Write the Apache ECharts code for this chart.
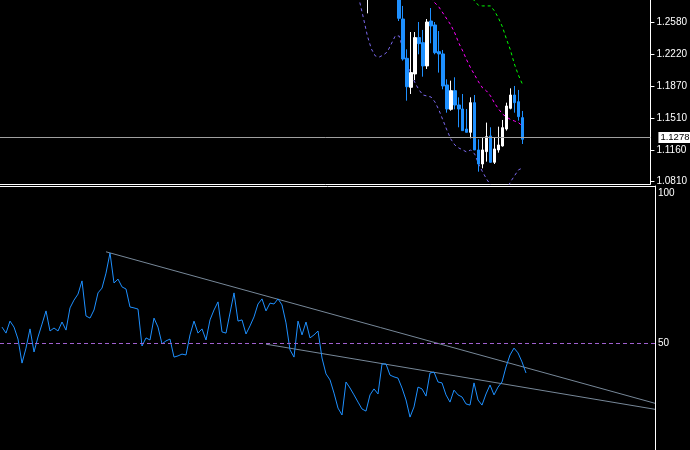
<!DOCTYPE html>
<html><head><meta charset="utf-8">
<script src="https://cdn.jsdelivr.net/npm/echarts@6/dist/echarts.min.js"></script>
<style>html,body{margin:0;padding:0;background:#000;}#c{width:690px;height:450px;}</style>
</head><body><div id="c"></div>
<script>
// ---- price pane data (bar index: 0 = leftmost bar) ----
const candleBars  = [92,100,101,102,103,104,105,106,107,108,109,110,111,112,113,114,115,116,117,118,119,120,121,122,123,124,125,126,127,128,129,130,131];
const candleOpen  = [1.2860,1.2880,1.2613,1.2177,1.1856,1.2004,1.2407,1.2351,1.2093,1.2591,1.2547,1.2251,1.2226,1.1882,1.1612,1.1819,1.1660,1.1616,1.1394,1.1357,1.1686,1.1162,1.1006,1.1143,1.1317,1.1025,1.1162,1.1206,1.1394,1.1623,1.1771,1.1697,1.1520];
const candleClose = [1.2950,1.2621,1.2170,1.1863,1.2019,1.2407,1.2340,1.2093,1.2580,1.2536,1.2240,1.2226,1.1871,1.1616,1.1819,1.1660,1.1616,1.1376,1.1357,1.1686,1.1162,1.1006,1.1162,1.1309,1.1025,1.1173,1.1217,1.1409,1.1649,1.1771,1.1686,1.1531,1.1280];
const candleLow   = [1.2676,1.2591,1.2152,1.1708,1.1782,1.1937,1.2222,1.1974,1.2059,1.2344,1.2222,1.2019,1.1834,1.1575,1.1597,1.1612,1.1413,1.1376,1.1357,1.1291,1.1162,1.0921,1.0958,1.1032,1.1021,1.1006,1.1132,1.1199,1.1376,1.1612,1.1575,1.1487,1.1228];
const candleHigh  = [1.2990,1.2920,1.2758,1.2277,1.2469,1.2469,1.2580,1.2492,1.2613,1.2735,1.2580,1.2480,1.2270,1.1945,1.1930,1.1967,1.1745,1.1782,1.1616,1.1745,1.1771,1.1280,1.1302,1.1465,1.1413,1.1302,1.1420,1.1494,1.1686,1.1845,1.1871,1.1827,1.1594];

const lowerBandStart = 89;
const lowerBand = [1.2990,1.2813,1.2624,1.2425,1.2281,1.2203,1.2192,1.2214,1.2248,1.2336,1.2425,1.2425,1.2270,1.2115,1.2004,1.1904,1.1827,1.1771,1.1760,1.1749,1.1694,1.1605,1.1494,1.1383,1.1283,1.1217,1.1184,1.1162,1.1139,1.1162,1.1117,1.1006,1.0918,1.0840,1.0774,1.0663,1.0608,1.0630,1.0718,1.0807,1.0873,1.0940,1.0962];
const midBandStart = 107;
const midBand = [1.2900,1.2846,1.2791,1.2746,1.2680,1.2613,1.2547,1.2458,1.2347,1.2259,1.2159,1.2070,1.1993,1.1915,1.1849,1.1815,1.1760,1.1682,1.1616,1.1561,1.1527,1.1500,1.1483,1.1466,1.1428];
const upperBandStart = 117;
const upperBand = [1.2950,1.2857,1.2813,1.2763,1.2758,1.2758,1.2758,1.2702,1.2624,1.2525,1.2392,1.2270,1.2115,1.1993,1.1893];

const currentPrice = 1.1278;
const priceTicks = [1.2580,1.2220,1.1870,1.1510,1.1160,1.0810];

// ---- oscillator pane ----
const rsi = [55.3,53.3,57.3,55.3,51.3,43.3,48.3,54.7,47.0,52.0,
             56.3,60.7,54.0,55.0,54.0,57.0,54.3,61.7,64.3,66.3,
             70.7,59.0,58.3,61.0,66.7,68.3,73.3,80.0,70.0,71.3,
             68.7,68.0,62.0,61.7,61.3,49.0,51.7,51.0,58.3,55.3,
             49.7,50.7,51.3,45.3,45.7,46.3,46.0,52.7,57.3,53.3,
             54.7,51.0,57.7,61.0,63.7,53.7,53.3,60.0,66.7,57.3,
             57.7,53.0,55.7,58.7,63.0,64.7,60.7,63.3,63.0,64.7,
             62.7,56.7,47.7,45.3,57.3,52.7,57.0,51.7,52.7,54.0,
             45.0,39.7,37.7,33.3,28.3,26.0,37.0,35.0,32.7,30.3,
             28.0,27.3,32.7,34.7,33.0,43.0,43.0,39.3,38.7,38.3,
             35.0,31.0,25.3,28.7,35.3,34.7,32.3,40.0,40.3,37.0,
             36.7,32.7,30.3,34.3,32.7,32.0,29.7,29.3,36.7,31.0,
             29.3,33.0,36.0,32.7,35.3,37.0,42.0,46.0,48.3,46.7,
             43.7,40.0];
const rsiTicks = [100, 50];
const rsiLevel = 50;
const trendUpper = [[26, 80.4], [163.25, 29.9]];
const trendLower = [[66, 49.6], [163.25, 27.9]];

// ---- build ----
const X_MIN = -0.5, X_MAX = 163.25;
const candleData = candleBars.map((b, k) => [b, candleOpen[k], candleClose[k], candleLow[k], candleHigh[k]]);
const band = (start, arr) => arr.map((v, k) => [start + k, v]);
const rsiData = rsi.map((v, i) => [i, v]);
const FONT = 'Liberation Sans';

const chart = echarts.init(document.getElementById('c'), null, {renderer: 'canvas'});
chart.setOption({
  animation: false,
  backgroundColor: '#000000',
  grid: [
    {left: 0, top: 0, width: 655, height: 184},
    {left: 0, top: 186, width: 655, height: 264}
  ],
  xAxis: [
    {type: 'value', gridIndex: 0, min: X_MIN, max: X_MAX, position: 'bottom',
     axisLine: {show: true, onZero: false, lineStyle: {color: '#ffffff', width: 1}},
     axisTick: {show: false}, axisLabel: {show: false}, splitLine: {show: false}},
    {type: 'value', gridIndex: 1, min: X_MIN, max: X_MAX, position: 'top',
     axisLine: {show: true, onZero: false, lineStyle: {color: '#ffffff', width: 1}},
     axisTick: {show: false}, axisLabel: {show: false}, splitLine: {show: false}}
  ],
  yAxis: [
    {type: 'value', gridIndex: 0, position: 'right', min: 1.07845, max: 1.28238,
     axisLine: {show: true, onZero: false, lineStyle: {color: '#ffffff', width: 1}},
     axisTick: {show: true, inside: false, length: 4, customValues: priceTicks, lineStyle: {color: '#ffffff'}},
     axisLabel: {show: true, customValues: priceTicks, margin: 6, color: '#ffffff', fontSize: 10, fontFamily: FONT,
                 formatter: v => Number(v).toFixed(4), showMinLabel: true, showMaxLabel: true, hideOverlap: false},
     splitLine: {show: false}},
    {type: 'value', gridIndex: 1, position: 'right', min: 14.3333, max: 102.3333,
     axisLine: {show: true, onZero: false, lineStyle: {color: '#ffffff', width: 1}},
     axisTick: {show: false},
     axisLabel: {show: true, customValues: rsiTicks, margin: 3, color: '#ffffff', fontSize: 10, fontFamily: FONT,
                 formatter: v => String(Math.round(v)), hideOverlap: false},
     splitLine: {show: false}}
  ],
  series: [
    {type: 'line', xAxisIndex: 0, yAxisIndex: 0, data: band(lowerBandStart, lowerBand), symbol: 'none', clip: true,
     lineStyle: {color: '#7b68ee', width: 1, type: [3, 3]}, z: 2},
    {type: 'line', xAxisIndex: 0, yAxisIndex: 0, data: band(midBandStart, midBand), symbol: 'none', clip: true,
     lineStyle: {color: '#ff00ff', width: 1, type: [3, 3]}, z: 2},
    {type: 'line', xAxisIndex: 0, yAxisIndex: 0, data: band(upperBandStart, upperBand), symbol: 'none', clip: true,
     lineStyle: {color: '#00ff00', width: 1, type: [3, 3]}, z: 2},
    {type: 'candlestick', xAxisIndex: 0, yAxisIndex: 0, data: candleData, clip: true,
     encode: {x: 0, y: [1, 2, 3, 4]}, barWidth: 3, z: 3,
     itemStyle: {color: '#ffffff', color0: '#1e90ff', borderColor: '#ffffff', borderColor0: '#1e90ff', borderWidth: 1},
     markLine: {silent: true, symbol: 'none', animation: false,
       lineStyle: {color: '#a0a0a0', width: 1, type: 'solid'},
       label: {show: true, position: 'end', distance: 8, formatter: currentPrice.toFixed(4),
               backgroundColor: '#ffffff', color: '#000000', fontSize: 9.5, fontFamily: FONT, padding: [1, 1, 0, 2]},
       data: [{yAxis: currentPrice}]}},
    {type: 'line', xAxisIndex: 1, yAxisIndex: 1, data: rsiData, symbol: 'none', clip: true,
     lineStyle: {color: '#1e90ff', width: 1}, z: 3,
     markLine: {silent: true, symbol: 'none', animation: false,
       lineStyle: {color: '#a060d0', width: 1, type: [4, 3]}, label: {show: false},
       data: [{yAxis: rsiLevel}]}},
    {type: 'line', xAxisIndex: 1, yAxisIndex: 1, data: trendUpper, symbol: 'none', clip: true,
     lineStyle: {color: '#778899', width: 1}, z: 2},
    {type: 'line', xAxisIndex: 1, yAxisIndex: 1, data: trendLower, symbol: 'none', clip: true,
     lineStyle: {color: '#778899', width: 1}, z: 2}
  ]
});
</script>
</body></html>
